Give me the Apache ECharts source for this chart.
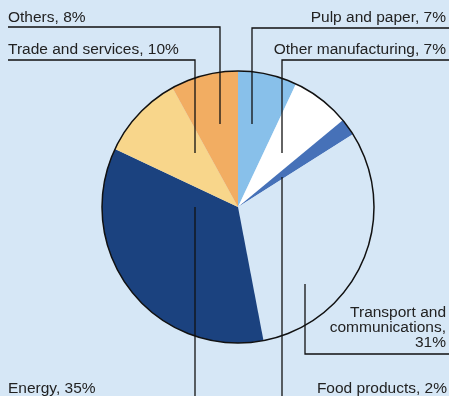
<!DOCTYPE html>
<html>
<head>
<meta charset="utf-8">
<script src="https://cdn.jsdelivr.net/npm/echarts@6/dist/echarts.min.js"></script>
<style>
  html, body { margin: 0; padding: 0; background: #d6e7f6; }
  #chart { width: 449px; height: 396px; }
</style>
</head>
<body>
<div id="chart"></div>
<script>
// Sectors, clockwise from twelve o'clock
const categories = [
  'Pulp and paper',
  'Other manufacturing',
  'Food products',
  'Transport and\ncommunications',
  'Energy',
  'Trade and services',
  'Others'
];
const shares = [7, 7, 2, 31, 35, 10, 8];
const sliceColors = ['#88c0ea', '#ffffff', '#4671b8', '#d6e7f6', '#1b427f', '#f8d68b', '#f2ad62'];

// Callout placement: text anchor and leader-line path for each sector
const callouts = [
  { x: 446, y: 25, align: 'right', line: [[252, 124], [252, 28], [449, 28]] },
  { x: 446, y: 57, align: 'right', line: [[282, 153], [282, 60], [449, 60]] },
  { x: 447, y: 396, align: 'right', line: [[282, 177], [282, 300], [282, 400]] },
  { x: 446, y: 350, align: 'right', line: [[305, 284], [305, 354], [449, 354]] },
  { x: 8, y: 396, align: 'left', line: [[195, 207], [195, 300], [195, 400]] },
  { x: 8, y: 57, align: 'left', line: [[195, 153], [195, 60], [8, 60]] },
  { x: 8, y: 25, align: 'left', line: [[220, 124], [220, 27], [8, 27]] }
];

const chart = echarts.init(document.getElementById('chart'), null, { renderer: 'canvas' });

const PIE_CENTER = [238, 207];
const PIE_RADIUS = 136;

const filled = categories.map((name, i) => ({
  name: name,
  value: shares[i],
  itemStyle: { color: sliceColors[i] }
}));
// same sectors, unfilled, carrying the callouts so their leader lines sit on top
const outlined = categories.map((name, i) => ({ name: name, value: shares[i] }));

chart.setOption({
  backgroundColor: '#d6e7f6',
  animation: false,
  series: [
    {
      type: 'pie',
      z: 1,
      center: PIE_CENTER,
      radius: PIE_RADIUS,
      startAngle: 90,
      clockwise: true,
      silent: true,
      itemStyle: { borderWidth: 0 },
      label: { show: false },
      labelLine: { show: false },
      data: filled
    },
    {
      type: 'pie',
      z: 3,
      center: PIE_CENTER,
      radius: PIE_RADIUS,
      startAngle: 90,
      clockwise: true,
      silent: true,
      avoidLabelOverlap: false,
      itemStyle: { color: 'rgba(0,0,0,0)', borderWidth: 0 },
      label: {
        show: true,
        position: 'outside',
        overflow: 'none',
        width: 300,
        color: '#222',
        fontFamily: 'Liberation Sans, Arial, Helvetica, sans-serif',
        fontSize: 15.5,
        lineHeight: 15,
        formatter: function (p) {
          const sep = p.name.indexOf('\n') >= 0 ? ',\n' : ', ';
          return p.name + sep + p.value + '%';
        }
      },
      labelLine: {
        show: true,
        smooth: false,
        lineStyle: { color: '#111', width: 1.3 }
      },
      labelLayout: function (params) {
        const c = callouts[params.dataIndex];
        return {
          x: c.x,
          y: c.y,
          align: c.align,
          verticalAlign: 'bottom',
          labelLinePoints: c.line
        };
      },
      data: outlined
    },
    {
      // outer rim of the pie
      type: 'pie',
      z: 4,
      center: PIE_CENTER,
      radius: PIE_RADIUS,
      silent: true,
      label: { show: false },
      labelLine: { show: false },
      itemStyle: { color: 'rgba(0,0,0,0)', borderColor: '#111', borderWidth: 1.5 },
      data: [{ value: 1, name: 'rim' }]
    }
  ]
});
</script>
</body>
</html>
